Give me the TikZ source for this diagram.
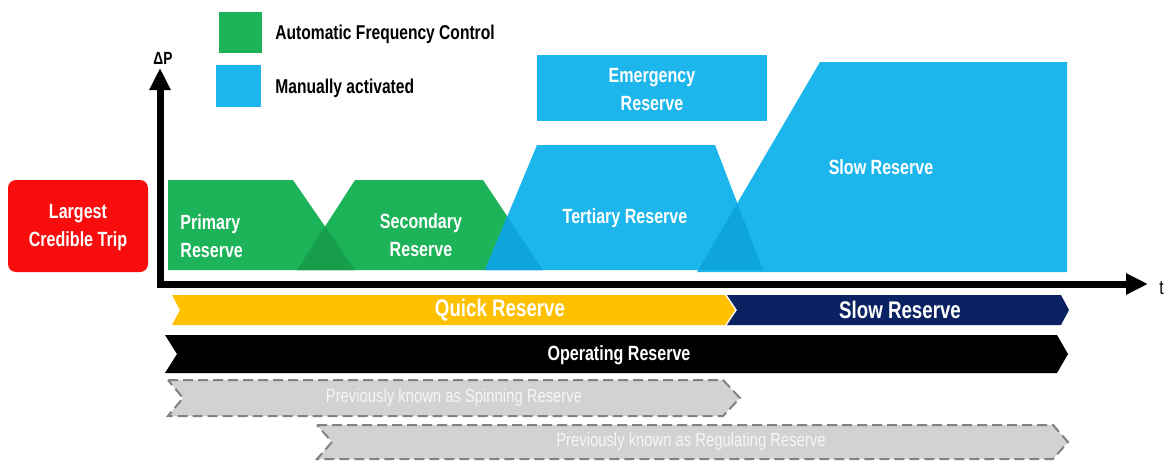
\documentclass[tikz,border=0pt]{standalone}
\usepackage{fontspec}
\setmainfont{Liberation Sans}[FakeStretch=0.78]
\usetikzlibrary{arrows.meta}
\definecolor{cgreen}{RGB}{29,179,88}
\definecolor{cgreenD}{RGB}{22,158,74}
\definecolor{cblue}{RGB}{29,182,236}
\definecolor{cblueD}{RGB}{14,164,220}
\definecolor{cred}{RGB}{248,12,12}
\definecolor{cyellow}{RGB}{255,192,0}
\definecolor{cnavy}{RGB}{10,34,98}
\definecolor{cgreyF}{RGB}{210,210,210}
\definecolor{cgreyD}{RGB}{130,130,130}
\definecolor{cgreyT}{RGB}{246,246,246}
\tikzset{
  lbl/.style={text=white, font=\bfseries\fontsize{10.3}{14}\selectfont, align=center, inner sep=0pt},
  bandlbl/.style={text=white, font=\bfseries\fontsize{12}{14}\selectfont, inner sep=0pt},
  greylbl/.style={text=cgreyT, font=\fontsize{9.5}{11}\selectfont, inner sep=0pt},
  legtxt/.style={text=black, font=\bfseries\fontsize{10}{12}\selectfont, anchor=west, inner sep=0pt},
  greyband/.style={fill=cgreyF, draw=cgreyD, line width=1pt, dash pattern=on 5pt off 2.5pt},
  axis/.style={line width=3.5pt, line join=miter, {Triangle[width=10pt,length=11pt]}-{Triangle[width=10pt,length=11pt]}},
}
\begin{document}
\begin{tikzpicture}[x=0.5pt,y=-0.5pt]
\useasboundingbox (0,0) rectangle (1168,461);
% legend
\fill[cgreen] (219,12) rectangle (262,53);
\fill[cblue] (216,65) rectangle (261,107);
\node[legtxt] (legA) at (275,34) {Automatic Frequency Control};
\node[legtxt] (legM) at (275,88) {Manually activated};
% red box
\fill[cred, rounded corners=4pt] (8,180) rectangle (148,272);
\node[lbl] (lct) at (78,228) {Largest\\Credible Trip};
% reserves
\def\prim{(168,180) -- (293,180) -- (355,270) -- (168,270) -- cycle}
\def\seco{(297,270) -- (355,180) -- (483,180) -- (543,270) -- cycle}
\def\tert{(485,270) -- (537,145) -- (715,145) -- (763,270) -- cycle}
\def\slow{(697,272) -- (820,62) -- (1067,62) -- (1067,272) -- cycle}
\fill[cgreen] \prim;
\fill[cgreen] \seco;
\fill[cblue] \tert;
\fill[cblue] \slow;
\fill[cblue] (537,55) rectangle (767,121);
\begin{scope}\clip \prim; \fill[cgreenD] \seco; \end{scope}
\begin{scope}\clip \seco; \fill[cblueD] \tert; \end{scope}
\begin{scope}\clip \tert; \fill[cblueD] \slow; \end{scope}
\node[lbl, align=left, anchor=west] (prim) at (180,236) {Primary\\Reserve};
\node[lbl] (seco) at (421,235) {Secondary\\Reserve};
\node[lbl] (tert) at (625,218) {Tertiary Reserve};
\node[lbl] (emer) at (652,90) {Emergency\\Reserve};
\node[lbl] (slowr) at (881,167) {Slow Reserve};
% axes
\coordinate (O) at (160,284);
\coordinate (ytop) at (160,68);
\coordinate (xend) at (1148,284);
\draw[axis] (ytop) -- (O) -- (xend);
\node[font=\bfseries\fontsize{8.8}{10}\selectfont, inner sep=0pt] (dP) at (163,58) {ΔP};
\node[font=\fontsize{10}{12}\selectfont, inner sep=0pt, anchor=west] (tl) at (1159,288) {t};
% bands
\fill[cyellow] (172,295) -- (725,295) -- (735,310) -- (725,325) -- (172,325) -- (180,310) -- cycle;
\fill[cnavy] (727,295) -- (1061,295) -- (1069,310) -- (1061,325) -- (727,325) -- (737,310) -- cycle;
\fill[black] (165,335) -- (1057,335) -- (1068,354) -- (1057,373) -- (165,373) -- (177,354) -- cycle;
\node[bandlbl] (quick) at (500,310) {Quick Reserve};
\node[bandlbl] (slowb) at (900,310) {Slow Reserve};
\node[lbl] (oper) at (619,355) {Operating Reserve};
\draw[greyband] (168,380) -- (723,380) -- (740,398) -- (723,416) -- (168,416) -- (183,398) -- cycle;
\draw[greyband] (317,425) -- (1053,425) -- (1068,442) -- (1053,459) -- (317,459) -- (332,442) -- cycle;
\node[greylbl] (spin) at (454,398) {Previously known as Spinning Reserve};
\node[greylbl] (regu) at (691,442) {Previously known as Regulating Reserve};
\end{tikzpicture}
\end{document}
